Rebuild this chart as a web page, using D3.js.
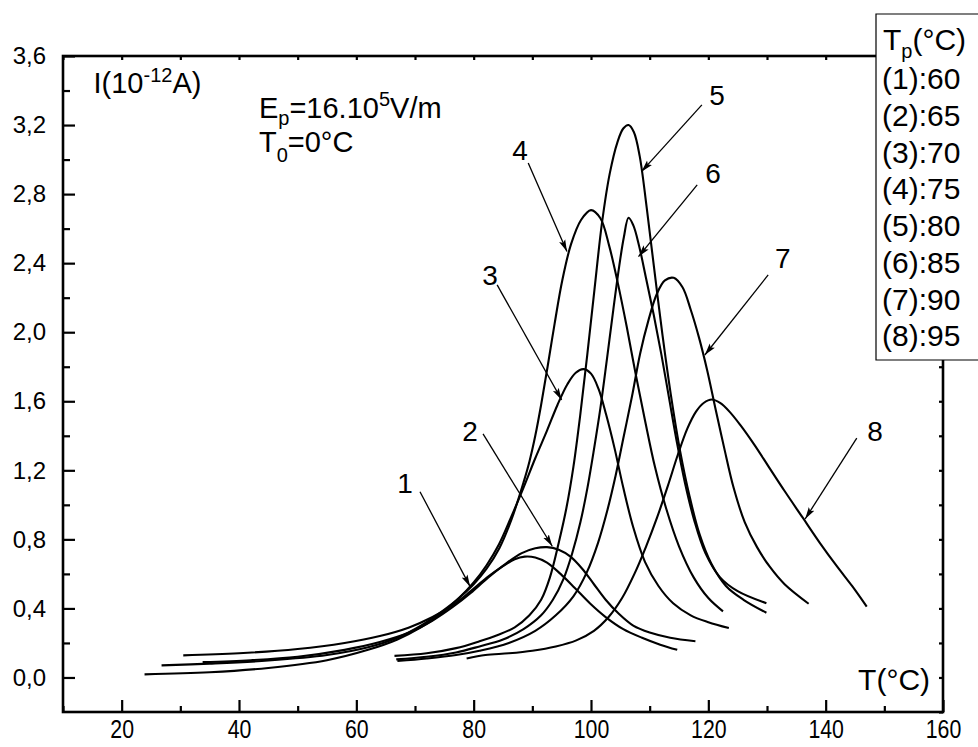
<!DOCTYPE html>
<html>
<head>
<meta charset="utf-8">
<script src="https://cdn.jsdelivr.net/npm/d3@7/dist/d3.min.js"></script>
<style>
  html, body { margin: 0; padding: 0; background: #fff; overflow: hidden; }
  svg { display: block; font-family: "Liberation Sans", Arial, Helvetica, sans-serif; }
</style>
</head>
<body>
<svg id="chart" width="978" height="747"></svg>
<script>
// ---- data ---------------------------------------------------------------
const polarTemps = [60, 65, 70, 75, 80, 85, 90, 95];   // T_p (°C)
const curveNames = ["1", "2", "3", "4", "5", "6", "7", "8"];

const xMajorTicks = [20, 40, 60, 80, 100, 120, 140, 160];
const xMinorTicks = [10, 30, 50, 70, 90, 110, 130, 150];
const yMajorTicks = [0, 0.4, 0.8, 1.2, 1.6, 2.0, 2.4, 2.8, 3.2, 3.6];
const yMinorTicks = [-0.2, 0.2, 0.6, 1.0, 1.4, 1.8, 2.2, 2.6, 3.0, 3.4];

// temperature (°C) / current (1e-12 A) pairs for each depolarisation curve
const temp1 = [30.5, 40, 50, 58, 64, 69, 73, 76.5, 79.5, 82.3, 85, 87, 88.7, 90.5, 92.5, 94.8, 97.2, 99.8, 102.5, 105.5, 108.7, 111.8, 114.7];
const curr1 = [0.128, 0.14, 0.165, 0.20, 0.24, 0.29, 0.35, 0.42, 0.50, 0.58, 0.645, 0.685, 0.70, 0.695, 0.665, 0.60, 0.52, 0.43, 0.35, 0.28, 0.23, 0.19, 0.16];

const temp2 = [33.8, 42, 50, 58, 64, 69, 73, 76.5, 79.5, 82.5, 85.5, 88.2, 90.5, 92.5, 94.5, 96.5, 98.5, 100.5, 102.5, 104.7, 107.2, 110, 113.5, 117.8];
const curr2 = [0.089, 0.10, 0.12, 0.16, 0.205, 0.26, 0.33, 0.41, 0.49, 0.58, 0.66, 0.72, 0.748, 0.755, 0.74, 0.70, 0.63, 0.54, 0.45, 0.37, 0.30, 0.26, 0.23, 0.21];

const temp3 = [26.8, 35, 45, 55, 62, 67, 71, 74.5, 77.5, 80, 82.2, 84.3, 86.4, 88.5, 90.5, 92.5, 94.3, 96, 97.4, 98.7, 100, 101.3, 102.6, 104, 105.5, 107.2, 109.2, 111.5, 114, 117, 120, 123.5];
const curr3 = [0.07, 0.08, 0.098, 0.13, 0.175, 0.23, 0.30, 0.38, 0.46, 0.55, 0.65, 0.77, 0.93, 1.10, 1.27, 1.43, 1.58, 1.70, 1.765, 1.786, 1.76, 1.67, 1.52, 1.33, 1.10, 0.87, 0.67, 0.53, 0.43, 0.36, 0.32, 0.286];

const temp4 = [23.9, 35, 45, 55, 62, 67, 71, 74.5, 77.5, 80, 82.2, 84.4, 86.5, 88.5, 89.5, 90.5, 91.5, 92.6, 93.8, 95.1, 96.6, 98.3, 100, 101.6, 103.1, 104.6, 106.1, 107.6, 109.2, 110.9, 112.8, 115, 117.5, 120, 122.5];
const curr4 = [0.018, 0.03, 0.055, 0.10, 0.16, 0.22, 0.29, 0.37, 0.46, 0.54, 0.63, 0.75, 0.92, 1.13, 1.25, 1.40, 1.58, 1.80, 2.05, 2.30, 2.51, 2.65, 2.707, 2.66, 2.50, 2.28, 2.03, 1.76, 1.49, 1.22, 0.98, 0.76, 0.58, 0.46, 0.383];

const temp5 = [66.5, 72, 77, 81, 84, 87, 89.5, 91.5, 93, 94.5, 95.8, 97, 98.2, 99.4, 100.6, 101.9, 103.2, 104.5, 105.5, 106.4, 107.3, 108.3, 109.5, 110.8, 112.2, 113.6, 115.2, 116.8, 118.5, 120.5, 123, 126, 129.9];
const curr5 = [0.125, 0.14, 0.17, 0.21, 0.245, 0.29, 0.36, 0.45, 0.58, 0.78, 0.98, 1.22, 1.53, 1.88, 2.25, 2.64, 2.92, 3.10, 3.18, 3.20, 3.16, 3.02, 2.72, 2.36, 1.98, 1.64, 1.31, 1.05, 0.83, 0.66, 0.53, 0.45, 0.375];

const temp6 = [66.8, 72, 77, 81, 85, 88.5, 91.5, 93.5, 95.3, 96.8, 98.2, 99.4, 100.5, 101.6, 102.7, 103.8, 104.8, 105.6, 106.4, 107.2, 108.2, 109.4, 110.7, 112, 113.3, 114.6, 116, 117.6, 119.5, 122, 125, 129.9];
const curr6 = [0.105, 0.12, 0.145, 0.18, 0.22, 0.28, 0.36, 0.45, 0.57, 0.72, 0.90, 1.10, 1.32, 1.56, 1.84, 2.13, 2.38, 2.55, 2.663, 2.62, 2.50, 2.31, 2.10, 1.87, 1.62, 1.37, 1.13, 0.91, 0.72, 0.58, 0.50, 0.43];

const temp7 = [67, 72, 77, 81, 86, 90.5, 94, 97, 99.3, 101.2, 102.8, 104.2, 105.6, 107, 108.4, 109.8, 111.2, 112.6, 114.1, 115.6, 117, 118.4, 119.8, 121.2, 122.7, 124.3, 126.2, 128.3, 130.5, 133, 137.1];
const curr7 = [0.095, 0.11, 0.13, 0.155, 0.20, 0.27, 0.36, 0.47, 0.61, 0.78, 0.97, 1.17, 1.40, 1.63, 1.88, 2.07, 2.22, 2.30, 2.315, 2.26, 2.13, 1.97, 1.78, 1.56, 1.33, 1.10, 0.90, 0.755, 0.64, 0.54, 0.427];

const temp8 = [78.8, 82, 86, 90, 94, 97.5, 100.5, 103, 105.3, 107.4, 109.4, 111.3, 113.1, 114.8, 116.4, 117.9, 119.2, 120.6, 122, 123.6, 125.5, 127.8, 130.3, 133, 136, 139, 142, 144.5, 147];
const curr8 = [0.11, 0.13, 0.14, 0.155, 0.18, 0.215, 0.27, 0.35, 0.46, 0.60, 0.76, 0.93, 1.11, 1.29, 1.44, 1.54, 1.59, 1.61, 1.59, 1.54, 1.46, 1.35, 1.22, 1.08, 0.93, 0.78, 0.64, 0.53, 0.41];

const curveTemps = [temp1, temp2, temp3, temp4, temp5, temp6, temp7, temp8];
const curveCurrents = [curr1, curr2, curr3, curr4, curr5, curr6, curr7, curr8];

// curve callouts: label centre, line start and arrow tip, all in data units (T, I)
const calloutLabelT = [68.3, 79.4, 82.8, 87.9, 121.5, 120.8, 132.7, 148.4];
const calloutLabelI = [1.125, 1.43, 2.332, 3.056, 3.375, 2.923, 2.430, 1.428];
const calloutStartT = [70.85, 81.6, 84.0, 89.3, 118.9, 118.1, 130.2, 145.3];
const calloutStartI = [1.076, 1.411, 2.274, 2.98, 3.317, 2.853, 2.332, 1.386];
const calloutTipT = [79.4, 93.4, 95.0, 95.9, 108.6, 108.1, 119.4, 136.5];
const calloutTipI = [0.526, 0.76, 1.608, 2.467, 2.93, 2.438, 1.868, 0.918];

// ---- layout -------------------------------------------------------------
const svg = d3.select("#chart");
const plot = { left: 63, right: 943, top: 56, bottom: 712 };

const x = d3.scaleLinear().domain([10, 160]).range([plot.left, plot.right]);
const y = d3.scaleLinear().domain([-0.2, 3.6]).range([plot.bottom, plot.top]);

const fmtComma = d => d.toFixed(1).replace(".", ",");

// ---- axes (ticks point into the plot) -----------------------------------
const axisStyle = g => {
  g.select(".domain").remove();
  g.selectAll(".tick line").attr("stroke", "#000").attr("stroke-width", 2.2);
};

// bottom: labelled major ticks + short minor ticks
svg.append("g")
  .attr("transform", `translate(0,${plot.bottom})`)
  .call(d3.axisBottom(x).tickValues(xMajorTicks).tickSize(-12).tickPadding(8).tickFormat(d3.format("d")))
  .call(axisStyle)
  .call(g => g.selectAll(".tick text")
    .attr("fill", "#000")
    .attr("font-size", 26)
    .attr("transform", "scale(0.82,1)"));

svg.append("g")
  .attr("transform", `translate(0,${plot.bottom})`)
  .call(d3.axisBottom(x).tickValues(xMinorTicks).tickSize(-6).tickFormat(""))
  .call(axisStyle);

// left: labelled major ticks + short minor ticks
svg.append("g")
  .attr("transform", `translate(${plot.left},0)`)
  .call(d3.axisLeft(y).tickValues(yMajorTicks).tickSize(-12).tickPadding(17).tickFormat(fmtComma))
  .call(axisStyle)
  .call(g => g.selectAll(".tick text").attr("fill", "#000").attr("font-size", 24));

svg.append("g")
  .attr("transform", `translate(${plot.left},0)`)
  .call(d3.axisLeft(y).tickValues(yMinorTicks.filter(v => v > -0.2)).tickSize(-7).tickFormat(""))
  .call(axisStyle);

// mirrored top and right axes: short ticks only
svg.append("g")
  .attr("transform", `translate(0,${plot.top})`)
  .call(d3.axisTop(x).tickValues(xMajorTicks.concat(xMinorTicks)).tickSize(-4).tickFormat(""))
  .call(axisStyle);

svg.append("g")
  .attr("transform", `translate(${plot.right},0)`)
  .call(d3.axisRight(y).tickValues(yMajorTicks.concat(yMinorTicks)).tickSize(-4).tickFormat(""))
  .call(axisStyle);

// frame
svg.append("rect")
  .attr("x", plot.left).attr("y", plot.top)
  .attr("width", plot.right - plot.left).attr("height", plot.bottom - plot.top)
  .attr("fill", "none").attr("stroke", "#000").attr("stroke-width", 2.6);

// ---- curves -------------------------------------------------------------
const line = d3.line()
  .x(d => x(d[0]))
  .y(d => y(d[1]))
  .curve(d3.curveCatmullRom.alpha(0.5));

const series = curveTemps.map((ts, i) => ({
  name: curveNames[i],
  points: ts.map((t, j) => [t, curveCurrents[i][j]])
}));

svg.append("g").selectAll("path")
  .data(series)
  .join("path")
  .attr("d", d => line(d.points))
  .attr("fill", "none")
  .attr("stroke", "#000")
  .attr("stroke-width", 2.1)
  .attr("stroke-linejoin", "round")
  .attr("stroke-linecap", "butt");

// ---- callouts -----------------------------------------------------------
svg.append("defs").append("marker")
  .attr("id", "arrowhead")
  .attr("markerUnits", "userSpaceOnUse")
  .attr("markerWidth", 13).attr("markerHeight", 8)
  .attr("refX", 12).attr("refY", 4)
  .attr("orient", "auto")
  .append("path")
  .attr("d", "M0,0.7 L12,4 L0,7.3 L2.5,4 Z")
  .attr("fill", "#000");

const callouts = curveNames.map((n, i) => ({
  name: n,
  lt: calloutLabelT[i], li: calloutLabelI[i],
  st: calloutStartT[i], si: calloutStartI[i],
  tt: calloutTipT[i], ti: calloutTipI[i]
}));

const cg = svg.append("g");
cg.selectAll("line")
  .data(callouts)
  .join("line")
  .attr("x1", d => x(d.st)).attr("y1", d => y(d.si))
  .attr("x2", d => x(d.tt)).attr("y2", d => y(d.ti))
  .attr("stroke", "#000").attr("stroke-width", 1.3)
  .attr("marker-end", "url(#arrowhead)");

cg.selectAll("text")
  .data(callouts)
  .join("text")
  .attr("x", d => x(d.lt)).attr("y", d => y(d.li))
  .attr("dy", "0.36em")
  .attr("text-anchor", "middle")
  .attr("font-size", 28)
  .text(d => d.name);

// ---- in-plot annotations -----------------------------------------------
const yTitle = svg.append("text")
  .attr("x", x(15.2)).attr("y", y(3.385))
  .attr("font-size", 29);
yTitle.append("tspan").text("I(10");
yTitle.append("tspan").attr("font-size", 20).attr("dy", -11).text("-12");
yTitle.append("tspan").attr("dy", 11).text("A)");

const field = svg.append("text")
  .attr("x", x(43.4)).attr("y", y(3.242))
  .attr("font-size", 29);
field.append("tspan").text("E");
field.append("tspan").attr("font-size", 20).attr("dy", 7).text("p");
field.append("tspan").attr("dy", -7).text("=16.10");
field.append("tspan").attr("font-size", 20).attr("dy", -12).text("5");
field.append("tspan").attr("dy", 12).text("V/m");

const start = svg.append("text")
  .attr("x", x(43.4)).attr("y", y(3.045))
  .attr("font-size", 29);
start.append("tspan").text("T");
start.append("tspan").attr("font-size", 20).attr("dy", 10).text("0");
start.append("tspan").attr("dy", -10).text("=0°C");

svg.append("text")
  .attr("x", x(157.8)).attr("y", y(-0.075))
  .attr("text-anchor", "end")
  .attr("font-size", 30)
  .text("T(°C)");

// ---- legend of polarisation temperatures (box runs off the right edge) ---
const legend = svg.append("g").attr("transform", "translate(876,14)");
legend.append("path")
  .attr("d", "M140,0 H0 V346 H140")
  .attr("fill", "#fff").attr("stroke", "#000").attr("stroke-width", 1.2);

const lh = legend.append("text").attr("x", 7).attr("y", 36).attr("font-size", 30);
lh.append("tspan").text("T");
lh.append("tspan").attr("font-size", 20).attr("dy", 8).text("p");
lh.append("tspan").attr("dy", -8).text("(°C)");

legend.selectAll("text.entry")
  .data(polarTemps)
  .join("text")
  .attr("class", "entry")
  .attr("x", 6)
  .attr("y", (d, i) => 75 + i * 36.75)
  .attr("font-size", 30)
  .text((d, i) => `(${curveNames[i]}):${d}`);
</script>
</body>
</html>
